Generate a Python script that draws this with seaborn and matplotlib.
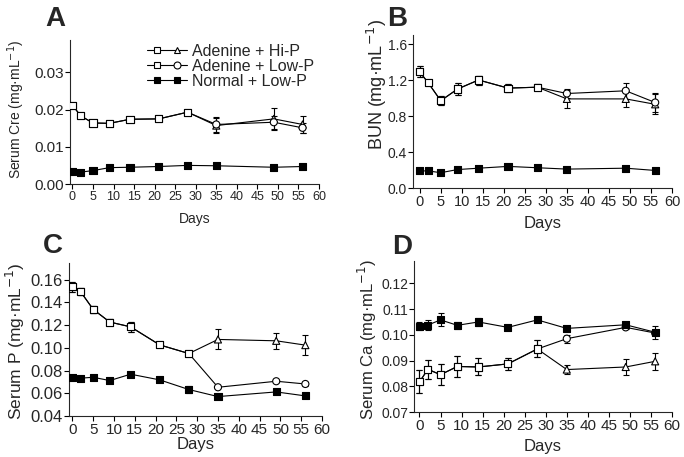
import matplotlib
matplotlib.use("Agg")
import matplotlib.pyplot as plt
import seaborn as sns
import pandas as pd
from matplotlib.lines import Line2D
from matplotlib.legend_handler import HandlerTuple
from matplotlib.ticker import FormatStrFormatter, MultipleLocator

# sampling days; the two adenine groups share the first 7 points (until day 28)
days = [0, 2, 5, 9, 14, 21, 28, 35, 49, 56]
n_shared = 7

# A: serum creatinine
cre_hi = [0.0212, 0.0183, 0.0164, 0.0163, 0.0174, 0.0175, 0.0193, 0.0157, 0.0175, 0.0160]
cre_hi_sem = [0.0004, 0.0003, 0.0003, 0.0003, 0.0003, 0.0003, 0.0004, 0.0021, 0.0030, 0.0023]
cre_low = [0.0212, 0.0183, 0.0164, 0.0163, 0.0174, 0.0175, 0.0193, 0.0160, 0.0166, 0.0151]
cre_low_sem = [0.0004, 0.0003, 0.0003, 0.0003, 0.0003, 0.0003, 0.0004, 0.0019, 0.0018, 0.0013]
cre_normal = [0.0034, 0.0032, 0.0036, 0.0044, 0.0045, 0.0047, 0.0050, 0.0049, 0.0045, 0.0047]
cre_normal_sem = [0.0002, 0.0002, 0.0002, 0.0002, 0.0002, 0.0002, 0.0002, 0.0002, 0.0002, 0.0002]

# B: BUN
bun_hi = [1.29, 1.17, 0.97, 1.10, 1.20, 1.11, 1.12, 0.99, 0.99, 0.93]
bun_hi_sem = [0.06, 0.03, 0.05, 0.07, 0.05, 0.04, 0.035, 0.10, 0.09, 0.11]
bun_low = [1.29, 1.17, 0.97, 1.10, 1.20, 1.11, 1.12, 1.05, 1.08, 0.95]
bun_low_sem = [0.06, 0.03, 0.05, 0.07, 0.05, 0.04, 0.035, 0.05, 0.09, 0.11]
bun_normal = [0.19, 0.19, 0.17, 0.205, 0.22, 0.24, 0.225, 0.21, 0.22, 0.195]
bun_normal_sem = [0.01, 0.01, 0.01, 0.01, 0.01, 0.01, 0.01, 0.01, 0.01, 0.01]

# C: serum phosphorus
p_hi = [0.1538, 0.1494, 0.1339, 0.1227, 0.1185, 0.1026, 0.0950, 0.1074, 0.1062, 0.1024]
p_hi_sem = [0.0045, 0.003, 0.003, 0.003, 0.0045, 0.001, 0.001, 0.0088, 0.007, 0.009]
p_low = [0.1538, 0.1494, 0.1339, 0.1227, 0.1185, 0.1026, 0.0950, 0.0653, 0.0706, 0.0682]
p_low_sem = [0.0045, 0.003, 0.003, 0.003, 0.0045, 0.001, 0.001, 0.001, 0.001, 0.0015]
p_normal = [0.0739, 0.0733, 0.0741, 0.0712, 0.0768, 0.0718, 0.0633, 0.0571, 0.0612, 0.0577]
p_normal_sem = [0.001, 0.001, 0.001, 0.001, 0.001, 0.001, 0.003, 0.001, 0.001, 0.001]

# D: serum calcium
ca_hi = [0.0817, 0.0866, 0.0845, 0.0877, 0.0875, 0.0887, 0.0945, 0.0865, 0.0875, 0.0897]
ca_hi_sem = [0.0045, 0.0037, 0.004, 0.0042, 0.0033, 0.0023, 0.0033, 0.0017, 0.003, 0.0033]
ca_low = [0.0817, 0.0866, 0.0845, 0.0877, 0.0875, 0.0887, 0.0945, 0.0985, 0.1029, 0.1007]
ca_low_sem = [0.0045, 0.0037, 0.004, 0.0042, 0.0033, 0.0023, 0.0033, 0.0015, 0.0005, 0.0005]
ca_normal = [0.1033, 0.1038, 0.1058, 0.1037, 0.1050, 0.1029, 0.1058, 0.1025, 0.1039, 0.1010]
ca_normal_sem = [0.0015, 0.0018, 0.0025, 0.0013, 0.0017, 0.001, 0.001, 0.0008, 0.0008, 0.0025]

legend_labels = ["Adenine + Hi-P", "Adenine + Low-P", "Normal + Low-P"]

sns.set_style("ticks")
plt.rcParams['font.family'] = ['Liberation Sans', 'DejaVu Sans']
plt.rcParams['axes.linewidth'] = 0.8


def long_table(hi, hi_sem, low, low_sem, normal, normal_sem):
    rows = []
    for i, d in enumerate(days):
        rows.append(("hi", d, hi[i], hi_sem[i], "square" if i < n_shared else "triangle", "open"))
        rows.append(("low", d, low[i], low_sem[i], "square" if i < n_shared else "circle", "open"))
        rows.append(("normal", d, normal[i], normal_sem[i], "square", "filled"))
    return pd.DataFrame(rows, columns=["group", "day", "value", "sem", "shape", "fill"])


def draw(ax, df):
    sns.lineplot(data=df, x="day", y="value", units="group", estimator=None,
                 color="black", lw=0.8, ax=ax, legend=False, zorder=2)
    ax.errorbar(df["day"], df["value"], yerr=df["sem"], fmt="none", ecolor="black",
                elinewidth=0.8, capsize=2.5, capthick=0.8, zorder=3)
    sns.scatterplot(data=df, x="day", y="value", style="shape", hue="fill",
                    markers={"square": "s", "triangle": "^", "circle": "o"},
                    palette={"open": "white", "filled": "black"},
                    edgecolor="black", linewidth=0.8, s=26, ax=ax, legend=False, zorder=4)


fig = plt.figure(figsize=(6.84, 4.57), dpi=100)
W, H = 684, 457

# name, (left, right, top, bottom) px, xlim left, ylim, y step, fmt,
# ytick size, xtick size, xlabel size, ylabel size, xlabel y, ylabel (x, y), ylabel text
panels = [
    ("A", (70, 319, 40, 184), -0.6, (0, 0.0387), 0.01, "%.2f", 11, 9, 10, 10, -0.195, (-0.172, 0.52),
     "Serum Cre (mg·mL$^{-1}$)", (cre_hi, cre_hi_sem, cre_low, cre_low_sem, cre_normal, cre_normal_sem)),
    ("B", (413, 672, 35, 188), -1.6, (0, 1.70), 0.4, "%.1f", 10, 10.5, 12, 13, -0.185, (-0.093, 0.68),
     "BUN (mg·mL$^{-1}$)", (bun_hi, bun_hi_sem, bun_low, bun_low_sem, bun_normal, bun_normal_sem)),
    ("C", (69, 322, 263, 416), -0.8, (0.04, 0.1747), 0.02, "%.2f", 12, 11, 12, 12.5, -0.14, (-0.165, 0.49),
     "Serum P (mg·mL$^{-1}$)", (p_hi, p_hi_sem, p_low, p_low_sem, p_normal, p_normal_sem)),
    ("D", (414, 672, 261, 412), -1.3, (0.07, 0.1287), 0.01, "%.2f", 10, 11, 12, 12, -0.18, (-0.137, 0.48),
     "Serum Ca (mg·mL$^{-1}$)", (ca_hi, ca_hi_sem, ca_low, ca_low_sem, ca_normal, ca_normal_sem)),
]
letter_pos = {"A": (45, 26.5), "B": (387, 26.5), "C": (43, 253.5), "D": (392, 254.5)}

axes = {}
for (name, (l, r, t, b), x0, ylim, ystep, fmt, ytfs, xtfs, xlfs, ylfs,
     xlab_y, ylab_xy, ylabel, series) in panels:
    ax = fig.add_axes([l / W, 1 - b / H, (r - l) / W, (b - t) / H])
    draw(ax, long_table(*series))
    ax.set_xlim(x0, 60)
    ax.set_ylim(*ylim)
    ax.xaxis.set_major_locator(MultipleLocator(5))
    ax.yaxis.set_major_locator(MultipleLocator(ystep))
    ax.yaxis.set_major_formatter(FormatStrFormatter(fmt))
    ax.tick_params(axis="both", length=3.5, width=0.8, color="black")
    ax.tick_params(axis="y", pad=0.8, labelsize=ytfs)
    ax.tick_params(axis="x", pad=1.5, labelsize=xtfs)
    ax.set_xlabel("Days", fontsize=xlfs)
    ax.set_ylabel(ylabel, fontsize=ylfs)
    ax.xaxis.set_label_coords(0.5, xlab_y)
    ax.yaxis.set_label_coords(*ylab_xy)
    sns.despine(ax=ax)
    lx, ly = letter_pos[name]
    fig.text(lx / W, 1 - ly / H, name, fontsize=20, fontweight="bold", va="baseline", ha="left")
    axes[name] = ax

# legend with line-marker-line-marker handles
h_sq = Line2D([], [], color="black", lw=0.8, marker="s", mfc="white", mec="black", ms=5, mew=0.8)
h_tri = Line2D([], [], color="black", lw=0.8, marker="^", mfc="white", mec="black", ms=5, mew=0.8)
h_circ = Line2D([], [], color="black", lw=0.8, marker="o", mfc="white", mec="black", ms=5, mew=0.8)
h_fsq = Line2D([], [], color="black", lw=0.8, marker="s", mfc="black", mec="black", ms=5, mew=0.8)
axes["A"].legend([(h_sq, h_tri), (h_sq, h_circ), (h_fsq, h_fsq)], legend_labels,
                 handler_map={tuple: HandlerTuple(ndivide=None, pad=0)},
                 frameon=False, fontsize=11.5, handlelength=2.5, handletextpad=0.3,
                 labelspacing=0.0, borderpad=0, borderaxespad=0, loc="upper left",
                 bbox_to_anchor=(147 / W, 1 - 44 / H), bbox_transform=fig.transFigure)

fig.savefig("out.png", dpi=100)
